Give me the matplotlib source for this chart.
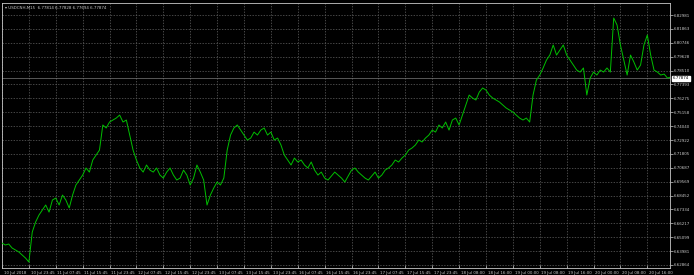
import numpy as np
import matplotlib
matplotlib.use('Agg')
import matplotlib.pyplot as plt

closes = [6.6463, 6.6447, 6.6455, 6.6423, 6.6407, 6.6391, 6.6366, 6.6342, 6.6310,
          6.6551, 6.6632, 6.6688, 6.6728, 6.6769, 6.6712, 6.6809, 6.6825, 6.6769, 6.6849,
          6.6809, 6.6745, 6.6849, 6.6930, 6.6970, 6.7010, 6.7067, 6.7034, 6.7131, 6.7171,
          6.7211, 6.7413, 6.7389, 6.7437, 6.7453, 6.7469, 6.7493, 6.7437, 6.7453, 6.7332,
          6.7211, 6.7131, 6.7067, 6.7034, 6.7091, 6.7050, 6.7034, 6.7067, 6.7010, 6.6986,
          6.7034, 6.7067, 6.7010, 6.6970, 6.6986, 6.7050, 6.7010, 6.6930, 6.6986, 6.7091,
          6.7034, 6.6970, 6.6769, 6.6849, 6.6906, 6.6954, 6.6930, 6.6986, 6.7211, 6.7332,
          6.7389, 6.7413, 6.7372, 6.7332, 6.7292, 6.7308, 6.7356, 6.7332, 6.7372, 6.7389,
          6.7332, 6.7356, 6.7292, 6.7308, 6.7252, 6.7171, 6.7131, 6.7091, 6.7147, 6.7115,
          6.7131, 6.7091, 6.7067, 6.7115, 6.7050, 6.7010, 6.7034, 6.6986, 6.6970, 6.7002,
          6.7034, 6.7010, 6.6986, 6.6954, 6.7002, 6.7050, 6.7067, 6.7034, 6.7010, 6.6986,
          6.6970, 6.7002, 6.7034, 6.6986, 6.7010, 6.7050, 6.7067, 6.7091, 6.7131, 6.7115,
          6.7147, 6.7171, 6.7211, 6.7228, 6.7252, 6.7292, 6.7276, 6.7308, 6.7332, 6.7372,
          6.7356, 6.7413, 6.7389, 6.7437, 6.7372, 6.7453, 6.7469, 6.7413, 6.7493, 6.7574,
          6.7654, 6.7630, 6.7614, 6.7678, 6.7711, 6.7694, 6.7654, 6.7630, 6.7614, 6.7598,
          6.7574, 6.7550, 6.7533, 6.7517, 6.7493, 6.7469, 6.7453, 6.7469, 6.7437, 6.7654,
          6.7775, 6.7815, 6.7872, 6.7936, 6.7976, 6.8057, 6.7976, 6.8016, 6.8057, 6.7976,
          6.7936, 6.7896, 6.7855, 6.7839, 6.7872, 6.7654, 6.7791, 6.7839, 6.7815, 6.7855,
          6.7839, 6.7872, 6.7839, 6.8274, 6.8218, 6.8057, 6.7936, 6.7815, 6.7976, 6.7920,
          6.7855, 6.7896, 6.8057, 6.8137, 6.7976, 6.7855, 6.7839, 6.7815, 6.7823, 6.7791,
          6.7799, 6.7795, 6.7790, 6.7787]
step_bars = 4

time_labels = ['10 Jul 2018', '10 Jul 23:45', '11 Jul 07:45', '11 Jul 15:45', '11 Jul 23:45',
               '12 Jul 07:45', '12 Jul 15:45', '12 Jul 23:45', '13 Jul 07:45', '13 Jul 15:45',
               '13 Jul 23:45', '16 Jul 07:45', '16 Jul 15:45', '16 Jul 23:45', '17 Jul 07:45',
               '17 Jul 15:45', '17 Jul 23:45', '18 Jul 08:00', '18 Jul 16:00', '19 Jul 00:00',
               '19 Jul 08:00', '19 Jul 16:00', '20 Jul 00:00', '20 Jul 08:00', '20 Jul 16:00']
bars_per_label = 32

price_ticks = [6.82981, 6.81863, 6.80746, 6.79628, 6.78510, 6.77393, 6.76275, 6.75158,
               6.74040, 6.72922, 6.71805, 6.70687, 6.69569, 6.68452, 6.67334, 6.66217,
               6.65099, 6.63981, 6.62864]
bid = 6.77874
header = 'USDCNH,M15  6.77814 6.77828 6.77694 6.77874'

fg = '#c8c8c8'
grid_c = '#626262'
fs = 2.9

fig = plt.figure(figsize=(6.94, 2.75), dpi=100, facecolor='black')
ax = fig.add_axes([2/694, 7/275, 668/694, 265/275], facecolor='black')

x = np.arange(len(closes)) * step_bars
ax.plot(x, closes, color='#00c000', lw=0.7, zorder=3)

ax.set_xlim(0, 795)
ax.set_ylim(6.6262, 6.8395)

xt = np.arange(len(time_labels)) * bars_per_label
ax.set_xticks(xt)
ax.set_xticklabels([])
for xv, lab in zip(xt, time_labels):
    ax.text(xv + 2, -0.01, lab, transform=ax.get_xaxis_transform(), ha='left', va='top',
            fontsize=fs, color=fg)

ax.yaxis.tick_right()
ax.set_yticks(price_ticks)
ax.set_yticklabels(['%.5f' % v for v in price_ticks], fontsize=fs, color=fg)
ax.tick_params(axis='y', length=2, width=0.5, color=fg, pad=1)
ax.tick_params(axis='x', length=2, width=0.5, color=fg, direction='in')

ax.grid(True, color=grid_c, ls=(0, (2, 2)), lw=0.5, zorder=0)
for s in ax.spines.values():
    s.set_color(fg)
    s.set_linewidth(0.6)

# bid line + price label
ax.axhline(bid, color='#7a7a7a', lw=0.5, zorder=2)
ax.text(1.004, bid, '%.5f' % bid, transform=ax.get_yaxis_transform(), ha='left', va='center',
        fontsize=fs, color='black', zorder=5,
        bbox=dict(boxstyle='square,pad=0.2', fc='white', ec='white'))

ax.text(0.004, 0.988, '\u25be ' + header, transform=ax.transAxes, ha='left', va='top',
        fontsize=fs, color=fg)

fig.savefig('out.png', dpi=100, facecolor='black')
